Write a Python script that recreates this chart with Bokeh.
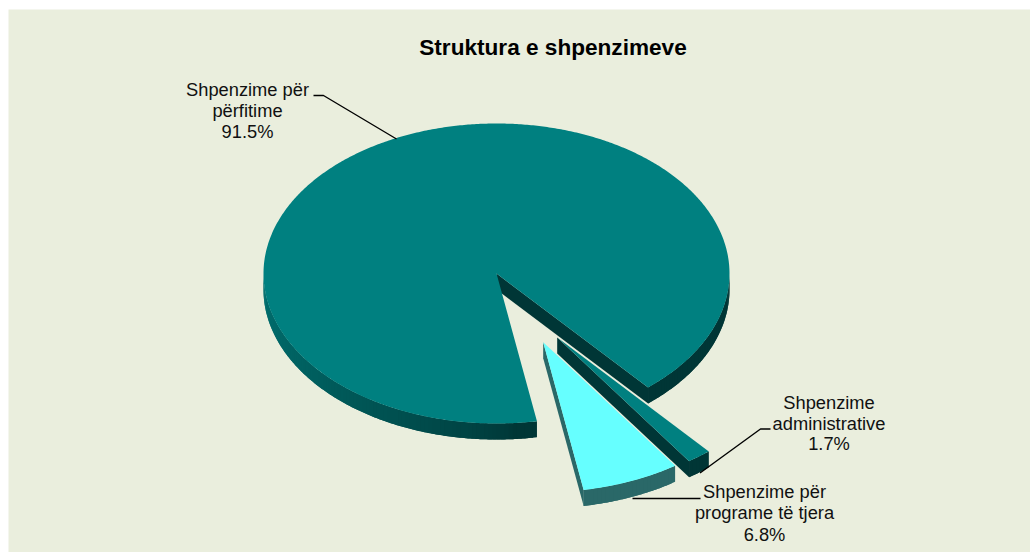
import numpy as np
from bokeh.plotting import figure
from bokeh.models import Range1d
from bokeh.core.properties import value
from bokeh.embed import file_html
from bokeh.resources import INLINE

title = "Struktura e shpenzimeve"
categories = ["Shpenzime për përfitime", "Shpenzime administrative", "Shpenzime për programe të tjera"]
shares = [91.5, 1.7, 6.8]
label_lines = [["Shpenzime për", "përfitime", "91.5%"],
               ["Shpenzime", "administrative", "1.7%"],
               ["Shpenzime për", "programe të tjera", "6.8%"]]

BG = "#EAEEDD"
TOP = ["#008080", "#008080", "#66FFFF"]
CX, CY, RX, RY, DEPTH = 496.0, 273.0, 233.0, 150.0, 16.0
START = 49.4
OFFSETS = [(0, 0), (60.7, 64.0), (46.7, 68.7)]
LABEL_POS = [(247, [88.5, 109.5, 131]), (828.5, [401.5, 422.5, 443]), (764, [490.5, 511.5, 533.5])]
TITLE_Y = 46.5
LEADERS = [([313, 323, 396], [95, 95, 138.5]),
           ([770, 760, 699.5], [428.5, 428.5, 472.5]),
           ([700, 632], [498, 498])]

p = figure(width=1022, height=544, x_range=Range1d(8, 1030), y_range=Range1d(552, 9),
           toolbar_location=None, output_backend="svg", min_border=0, min_border_top=1,
           min_border_left=0, min_border_right=0, min_border_bottom=0,
           background_fill_color=BG, border_fill_color="#FFFFFF", outline_line_color=None)
p.axis.visible = False
p.grid.visible = False


def pt(a, ox, oy):
    r = np.radians(a)
    return CX + ox + RX * np.cos(r), CY + oy + RY * np.sin(r)


def hexmix(c1, c2, t):
    t = float(np.clip(t, 0, 1))
    a = [int(c1[i:i+2], 16) for i in (1, 3, 5)]
    b = [int(c2[i:i+2], 16) for i in (1, 3, 5)]
    return "#%02x%02x%02x" % tuple(int(round(x + (y - x) * t)) for x, y in zip(a, b))


def wall_color(i, a):
    """Shade of the outer wall at screen angle a (clockwise from the right)."""
    if i == 2:
        return "#2A6868"
    a = a % 360
    if a <= 85:
        return "#003636"
    if a >= 180:
        return "#007070"
    return hexmix("#003636", "#007070", ((a - 85) / 95) ** 0.7)


# angular spans (screen clockwise): administrative, other, then benefits
spans = {}
a = START
spans[1] = (a, a + shares[1] * 3.6); a += shares[1] * 3.6
spans[2] = (a, a + shares[2] * 3.6); a += shares[2] * 3.6
spans[0] = (a, START + 360)

for i in (2, 1, 0):
    a0, a1 = spans[i]
    ox, oy = OFFSETS[i]
    ax, ay = CX + ox, CY + oy
    # outer wall, only where it faces the viewer; one overlapping strip per step
    ranges = [(a0, a1)] if i else [(a0, 180.0), (360.0, a1)]
    wx, wy, wc = [], [], []
    for lo, hi in ranges:
        edges = np.arange(lo, hi, 1.0)
        for e0 in edges:
            # each strip reaches under the next one, so no seam can show
            th = np.linspace(e0, hi, 2) if e0 + 2.0 >= hi else np.linspace(e0, e0 + 2.0, 5)
            tx = [pt(t, ox, oy)[0] for t in th]
            ty = [pt(t, ox, oy)[1] for t in th]
            wx.append(tx + tx[::-1])
            wy.append(ty + [y + DEPTH for y in ty[::-1]])
            wc.append(wall_color(i, e0))
    p.patches(wx, wy, fill_color=wc, line_color=None)
    # cut wall
    x1, y1 = pt(a1, ox, oy)
    cut = "#003636" if i < 2 else "#2A6868"
    p.patch([ax, x1, x1, ax], [ay, y1, y1 + DEPTH, ay + DEPTH], fill_color=cut, line_color=None)
    # top face
    th = np.linspace(a0, a1, max(3, int((a1 - a0) * 2)))
    xs = [ax] + [pt(t, ox, oy)[0] for t in th]
    ys = [ay] + [pt(t, ox, oy)[1] for t in th]
    p.patch(xs, ys, fill_color=TOP[i], line_color=None)

for lx, ly in LEADERS:
    p.line(lx, ly, line_color="#000000", line_width=1.4)

FONT = value("Liberation Sans")
p.text([552.5], [TITLE_Y], text=[title], text_font=FONT, text_font_size="22.6px", text_font_style="bold",
       text_align="center", text_baseline="alphabetic", text_color="#000000")
for lines, (lx, ys) in zip(label_lines, LABEL_POS):
    p.text([lx] * 3, ys, text=lines, text_font=FONT, text_font_size="18.3px",
           text_align="center", text_baseline="alphabetic", text_color="#111111")

html = file_html(p, INLINE)
html = html.replace("</head>", "<style>html,body{overflow:hidden}body{margin:8px 0 0 8px}</style></head>", 1)
open("out.html", "w").write(html)
